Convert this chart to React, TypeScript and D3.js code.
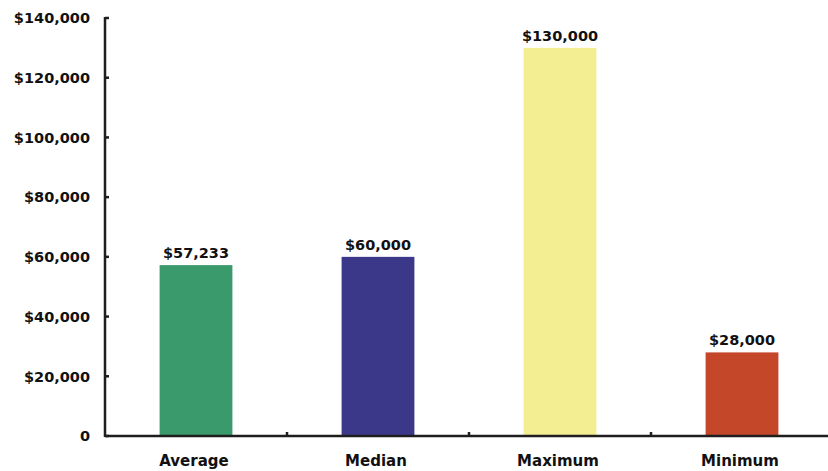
import React, { useEffect, useRef } from 'react';
import * as d3 from 'd3';

const categories = ['Average', 'Median', 'Maximum', 'Minimum'];
const values = [57233, 60000, 130000, 28000];
const colors = ['#3a9a6b', '#3b3889', '#f3ee92', '#c4472a'];
const yTicks = [0, 20000, 40000, 60000, 80000, 100000, 120000, 140000];

const W = 828;
const H = 471;
const FONT = '"DejaVu Sans", sans-serif';

const App: React.FC = () => {
  const ref = useRef<SVGSVGElement>(null);

  useEffect(() => {
    if (!ref.current) return;
    const svg = d3.select(ref.current);
    svg.selectAll('*').remove();

    const x0 = 105;
    const x = d3.scaleBand<string>()
      .domain(categories)
      .range([x0, x0 + 728])
      .paddingInner(0.6)
      .paddingOuter(0.3);

    const y = d3.scaleLinear()
      .domain([0, 140000])
      .range([436, 18]);

    const money = (v: number) => (v === 0 ? '0' : '$' + d3.format(',')(v));
    // left edge of a band's slot (midpoint of the gap before it)
    const slotStart = (c: string) => x(c)! - (x.step() - x.bandwidth()) / 2;

    // bars
    svg.selectAll('rect.bar')
      .data(values)
      .enter()
      .append('rect')
      .attr('class', 'bar')
      .attr('x', (_, i) => x(categories[i])!)
      .attr('width', x.bandwidth())
      .attr('y', d => y(d))
      .attr('height', d => y(0) - y(d))
      .attr('fill', (_, i) => colors[i]);

    // value labels
    svg.selectAll('text.val')
      .data(values)
      .enter()
      .append('text')
      .attr('class', 'val')
      .attr('x', (_, i) => x(categories[i])! + x.bandwidth() / 2)
      .attr('y', d => y(d) - 7)
      .attr('text-anchor', 'middle')
      .style('font-family', FONT)
      .style('font-weight', 'bold')
      .style('font-size', '14.5px')
      .attr('fill', '#111')
      .text(d => money(d));

    // y axis
    const axisColor = '#1e1e1e';
    svg.append('line')
      .attr('x1', x0).attr('x2', x0)
      .attr('y1', y(140000) - 1).attr('y2', y(0) + 1)
      .attr('stroke', axisColor).attr('stroke-width', 2.5);

    const yt = svg.selectAll('g.yt')
      .data(yTicks)
      .enter()
      .append('g')
      .attr('class', 'yt')
      .attr('transform', d => `translate(0,${y(d)})`);
    yt.append('line')
      .attr('x1', x0).attr('x2', x0 + 4)
      .attr('stroke', axisColor).attr('stroke-width', 2.5);
    yt.append('text')
      .attr('x', 90)
      .attr('dy', '0.36em')
      .attr('text-anchor', 'end')
      .style('font-family', FONT)
      .style('font-weight', 'bold')
      .style('font-size', '14.5px')
      .attr('fill', '#111')
      .text(d => money(d));

    // x axis
    svg.append('line')
      .attr('x1', x0).attr('x2', W)
      .attr('y1', y(0)).attr('y2', y(0))
      .attr('stroke', axisColor).attr('stroke-width', 2.5);

    svg.selectAll('line.xt')
      .data(categories.slice(1))
      .enter()
      .append('line')
      .attr('class', 'xt')
      .attr('x1', d => slotStart(d))
      .attr('x2', d => slotStart(d))
      .attr('y1', y(0)).attr('y2', y(0) - 4)
      .attr('stroke', axisColor).attr('stroke-width', 2.5);

    svg.selectAll('text.cat')
      .data(categories)
      .enter()
      .append('text')
      .attr('class', 'cat')
      .attr('x', d => x(d)! + x.bandwidth() / 2 - 2)
      .attr('y', 466)
      .attr('text-anchor', 'middle')
      .style('font-family', FONT)
      .style('font-weight', 'bold')
      .style('font-size', '15px')
      .attr('fill', '#111')
      .text(d => d);
  }, []);

  return (
    <svg
      ref={ref}
      width={W}
      height={H}
      style={{ position: 'absolute', left: 0, top: 0, background: '#fff' }}
    />
  );
};

export default App;
